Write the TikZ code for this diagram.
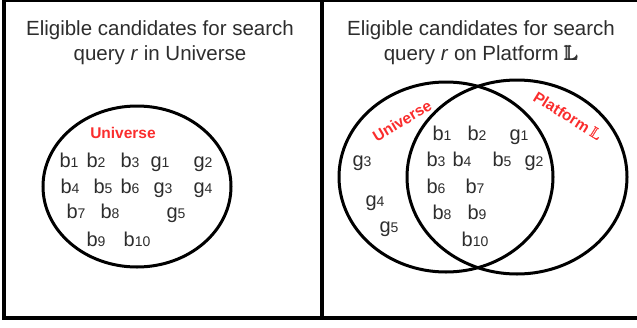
\documentclass[tikz,border=0pt]{standalone}
\usepackage{amsmath,amssymb}
\usepackage{fontspec}
\setmainfont{Liberation Sans}
\usetikzlibrary{shapes}

\definecolor{inkgray}{RGB}{45,45,45}
\definecolor{setred}{RGB}{250,45,45}
\newcommand{\cand}[2]{#1{\fontsize{14}{14}\selectfont #2}}
\newcommand{\platL}{$\pmb{\mathbb{L}}$}

\begin{document}
\begin{tikzpicture}[x=1pt,y=-1pt,
    title/.style={align=center,text=inkgray,font=\fontsize{20.5}{25}\selectfont},
    item/.style={anchor=base,inner sep=0pt,text=inkgray,font=\fontsize{20}{20}\selectfont},
    setname/.style={inner sep=0pt,text=setred,font=\fontsize{15.5}{15.5}\selectfont\bfseries},
    venn/.style={ellipse,draw,line width=3pt}]
    \useasboundingbox (0,0) rectangle (637,327);
    \begin{scope}
    \clip (0,0) rectangle (637,327);
    \draw[line width=4pt] (4,0) rectangle (641,318);
    \end{scope}
    \draw[line width=3.5pt] (322,0) -- (322,318); % split in two panels

    % left panel
    \node[title,anchor=base] (tl) at (160,60) {Eligible candidates for search\\query \textit{r} in Universe};
    \node[venn,minimum width=188pt,minimum height=161pt] (u) at (137,186.5) {};
    \node[setname,anchor=base] (ul) at (123,138) {Universe};
    \node[item] (a1) at (69,167) {\cand{b}{1}};
    \node[item] (a2) at (96,167) {\cand{b}{2}};
    \node[item] (a3) at (130,167) {\cand{b}{3}};
    \node[item] (a4) at (160,167) {\cand{g}{1}};
    \node[item] (a5) at (203,167) {\cand{g}{2}};
    \node[item] (a6) at (70,193) {\cand{b}{4}};
    \node[item] (a7) at (103,193) {\cand{b}{5}};
    \node[item] (a8) at (130,193) {\cand{b}{6}};
    \node[item] (a9) at (163,193) {\cand{g}{3}};
    \node[item] (a10) at (203,193) {\cand{g}{4}};
    \node[item] (a11) at (76,218) {\cand{b}{7}};
    \node[item] (a12) at (110,218) {\cand{b}{8}};
    \node[item] (a13) at (176,218) {\cand{g}{5}};
    \node[item] (a14) at (96,246) {\cand{b}{9}};
    \node[item] (a15) at (137,246) {\cand{b}{10}};

    % right panel
    \node[title,anchor=base] (tr) at (481,60) {Eligible candidates for search\\query \textit{r} on Platform \platL};
    \node[venn,minimum width=214pt,minimum height=190pt] (v1) at (446,177) {};
    \node[venn,minimum width=220pt,minimum height=194pt] (v2) at (517,177) {};
    \node[setname,rotate=31] (vl1) at (402,121) {Universe};
    \node[setname,rotate=-32] (vl2) at (568,116) {Platform \platL};
    \node[item] (c1) at (442,140) {\cand{b}{1}};
    \node[item] (c2) at (477,140) {\cand{b}{2}};
    \node[item] (c3) at (519,140) {\cand{g}{1}};
    \node[item] (c4) at (362,166) {\cand{g}{3}};
    \node[item] (c5) at (436,166) {\cand{b}{3}};
    \node[item] (c6) at (462,166) {\cand{b}{4}};
    \node[item] (c7) at (502,166) {\cand{b}{5}};
    \node[item] (c8) at (534,166) {\cand{g}{2}};
    \node[item] (c9) at (436,193) {\cand{b}{6}};
    \node[item] (c10) at (475,193) {\cand{b}{7}};
    \node[item] (c11) at (375,206) {\cand{g}{4}};
    \node[item] (c12) at (442,219) {\cand{b}{8}};
    \node[item] (c13) at (477,219) {\cand{b}{9}};
    \node[item] (c14) at (389,232) {\cand{g}{5}};
    \node[item] (c15) at (475,246) {\cand{b}{10}};
\end{tikzpicture}
\end{document}
